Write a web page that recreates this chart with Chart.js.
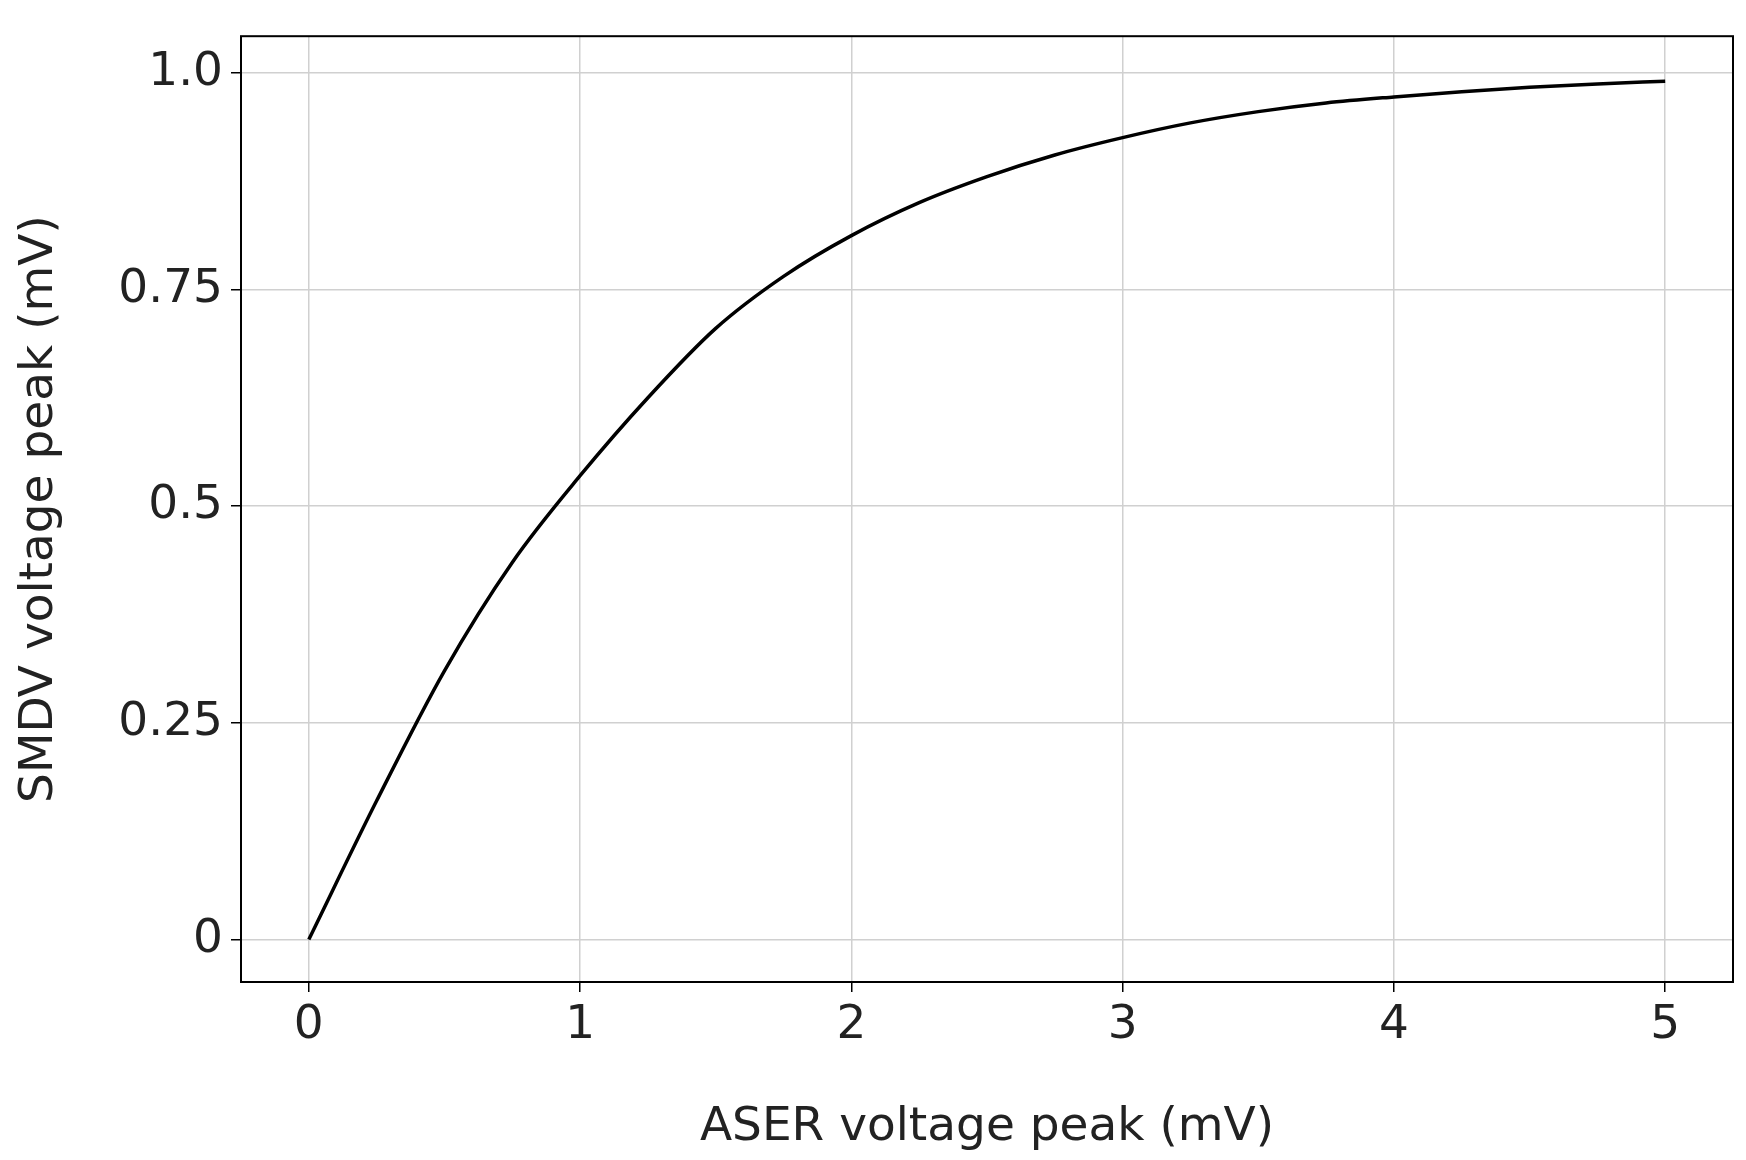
<!DOCTYPE html>
<html>
<head>
<meta charset="utf-8">
<script src="https://cdn.jsdelivr.net/npm/chart.js@4.4.0/dist/chart.umd.min.js"></script>
<style>
  body { margin: 0; background: #fff; }
  #wrap { width: 1746px; height: 1160px; }
</style>
</head>
<body>
<div id="wrap"><canvas id="c"></canvas></div>
<script>
// values
const aserPeak = [0, 0.25, 0.5, 0.75, 1, 1.25, 1.5, 1.75, 2, 2.25, 2.5, 2.75, 3, 3.25, 3.5, 3.75, 4, 4.25, 4.5, 4.75, 5]
const smdvPeak = [0, 0.16, 0.31, 0.435, 0.535, 0.625, 0.705, 0.765, 0.812, 0.85, 0.88, 0.905, 0.925, 0.942, 0.955, 0.965, 0.972, 0.978, 0.983, 0.987, 0.99]
const yTickValues = [0, 0.25, 0.5, 0.75, 1.0]
const yTickLabels = ['0', '0.25', '0.5', '0.75', '1.0']

const font = { family: 'DejaVu Sans', size: 47 }

const frame = {
    id: 'frame',
    afterDraw(chart) {
        const a = chart.chartArea
        const ctx = chart.ctx
        ctx.save()
        ctx.strokeStyle = '#000'
        ctx.lineWidth = 2
        ctx.strokeRect(a.left, a.top, a.right - a.left, a.bottom - a.top)
        ctx.restore()
    }
}

new Chart(document.getElementById('c'), {
    type: 'line',
    data: {
        datasets: [{
            data: aserPeak.map((x, i) => ({ x: x, y: smdvPeak[i] })),
            borderColor: '#000',
            borderWidth: 3.5,
            pointRadius: 0,
            cubicInterpolationMode: 'monotone'
        }]
    },
    options: {
        responsive: true,
        maintainAspectRatio: false,
        animation: false,
        layout: { padding: { top: 20, right: 13, left: 0, bottom: 0 } },
        plugins: { legend: { display: false }, tooltip: { enabled: false } },
        scales: {
            x: {
                type: 'linear', min: -0.25, max: 5.25,
                afterFit: s => { s.height = 178 },
                afterBuildTicks: s => { s.ticks = [0, 1, 2, 3, 4, 5].map(v => ({ value: v })) },
                grid: { color: '#d0d0d0', lineWidth: 1.5, tickColor: '#000', tickLength: 10 },
                border: { display: false },
                ticks: { color: '#222', font: font, padding: 6 },
                title: { display: true, text: 'ASER voltage peak (mV)', color: '#222', font: font, padding: { top: 0 } }
            },
            y: {
                type: 'linear', min: -0.049, max: 1.042,
                afterFit: s => { s.width = 241 },
                afterBuildTicks: s => { s.ticks = yTickValues.map(v => ({ value: v })) },
                grid: { color: '#d0d0d0', lineWidth: 1.5, tickColor: '#000', tickLength: 10 },
                border: { display: false },
                ticks: { color: '#222', font: font, padding: 8, callback: v => yTickLabels[yTickValues.indexOf(v)] },
                title: { display: true, text: 'SMDV voltage peak (mV)', color: '#222', font: font, padding: { top: 12, bottom: 0 } }
            }
        }
    },
    plugins: [frame]
})
</script>
</body>
</html>
